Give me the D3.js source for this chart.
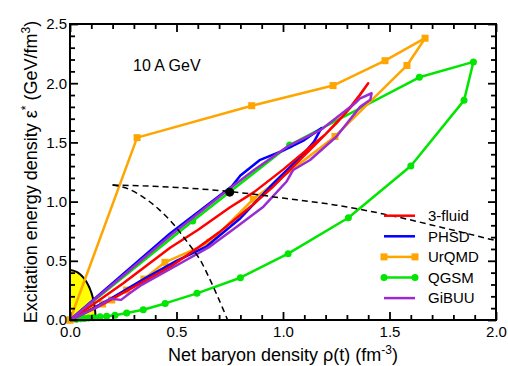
<!DOCTYPE html>
<html><head><meta charset="utf-8">
<script src="https://cdn.jsdelivr.net/npm/d3@7"></script>
<style>
body{margin:0;background:#fff;}
text{font-family:"Liberation Sans",Arial,Helvetica,sans-serif;}
</style></head>
<body>
<svg id="c" width="508" height="366"></svg>
<script>
// ---- data (net baryon density rho, excitation energy density eps) ----
const fluidRho = [0,0.1,0.25,0.47,0.6,0.75,0.864,1.0,1.1,1.2,1.3,1.36,1.40,1.33,1.25,1.15,1.05,0.95,0.85,0.7,0.6,0.48,0.3,0.15,0];
const fluidEps = [0,0.12,0.31,0.61,0.76,0.95,1.08,1.27,1.42,1.57,1.76,1.9,2.0,1.82,1.66,1.48,1.3,1.12,0.96,0.74,0.61,0.46,0.28,0.13,0];

const phsdRho = [0,0.2,0.47,0.76,0.80,0.89,1.0,1.1,1.18,1.146,1.099,0.958,0.8,0.64,0.5,0.35,0.2,0.08,0];
const phsdEps = [0,0.31,0.73,1.13,1.22,1.35,1.43,1.52,1.62,1.506,1.408,1.16,0.86,0.62,0.5,0.35,0.19,0.07,0];

const urqmdRho = [0,0.315,0.853,1.235,1.479,1.667,1.582,1.244,0.861,0.657,0.446,0.347,0.266,0.196,0.153,0];
const urqmdEps = [0,1.54,1.81,1.98,2.19,2.38,2.15,1.55,1.02,0.656,0.487,0.346,0.253,0.169,0.135,0];

const qgsmRho = [0,0.03,0.05,0.068,0.088,0.109,0.141,0.172,0.211,0.266,0.344,0.447,0.596,0.80,1.024,1.307,1.6,1.85,1.894,1.64,1.031,0.576,0];
const qgsmEps = [0,0.006,0.01,0.013,0.016,0.02,0.028,0.031,0.04,0.059,0.087,0.14,0.225,0.357,0.56,0.864,1.30,1.855,2.18,2.05,1.478,0.836,0];

const gibuuRho = [0,0.2,0.469,0.75,0.864,1.02,1.177,1.338,1.36,1.416,1.41,1.362,1.25,1.127,1.048,1.017,0.908,0.783,0.657,0.5,0.33,0.28,0.24,0.19,0.12,0];
const gibuuEps = [0,0.3,0.71,1.11,1.267,1.464,1.605,1.83,1.87,1.915,1.86,1.80,1.548,1.351,1.267,1.17,0.957,0.788,0.62,0.46,0.29,0.225,0.17,0.18,0.1,0];

// dashed curves
const dashARho = [0.2,0.5,0.75,1.0,1.25,1.5,1.75,2.0];
const dashAEps = [1.14,1.12,1.085,1.03,0.97,0.885,0.78,0.67];
const dashBRho = [0.2,0.27,0.35,0.42,0.49,0.55,0.61,0.66,0.70,0.74];
const dashBEps = [1.14,1.11,1.03,0.93,0.80,0.66,0.51,0.33,0.17,0.0];
const blobRho = [0.75], blobEps = [1.08];

// yellow region semi-axes
const regionRho = 0.12, regionEps = 0.42;

const legendNames = ["3-fluid","PHSD","UrQMD","QGSM","GiBUU"];
const xMajor = [0,0.5,1.0,1.5,2.0];
const yMajor = [0,0.5,1.0,1.5,2.0,2.5];

// ---- drawing ----
const svg = d3.select("#c");
const x = d3.scaleLinear().domain([0,2]).range([70,496]);
const y = d3.scaleLinear().domain([0,2.5]).range([320,24]);
const zip = (a,b)=>a.map((v,i)=>[v,b[i]]);
const line = d3.line().x(d=>x(d[0])).y(d=>y(d[1]));

const colors = {fluid:"#ff0000", phsd:"#0000ff", urqmd:"#ffa500", qgsm:"#00e600", gibuu:"#9a2bd0"};

// yellow region
const arcPts = d3.range(0,91,3).map(a=>[regionRho*Math.cos(a*Math.PI/180), regionEps*Math.sin(a*Math.PI/180)]);
svg.append("path").attr("d", line([[0,0],...arcPts,[0,0]])).attr("fill","#ffff00").attr("stroke","none");
svg.append("path").attr("d", line(arcPts)).attr("fill","none").attr("stroke","#000").attr("stroke-width",2);

// series
function drawSeries(rho, eps, col, w){
  svg.append("path").attr("d", line(zip(rho,eps))).attr("fill","none")
    .attr("stroke",col).attr("stroke-width",w).attr("stroke-linejoin","round");
}
drawSeries(qgsmRho,qgsmEps,colors.qgsm,2.5);
svg.append("g").selectAll("circle").data(zip(qgsmRho,qgsmEps).slice(1,-1)).join("circle")
  .attr("cx",d=>x(d[0])).attr("cy",d=>y(d[1])).attr("r",3.5).attr("fill",colors.qgsm);
drawSeries(urqmdRho,urqmdEps,colors.urqmd,2.5);
svg.append("g").selectAll("rect").data(zip(urqmdRho,urqmdEps)).join("rect")
  .attr("x",d=>x(d[0])-3.5).attr("y",d=>y(d[1])-3.5).attr("width",7).attr("height",7).attr("fill",colors.urqmd);
drawSeries(phsdRho,phsdEps,colors.phsd,2.5);
drawSeries(fluidRho,fluidEps,colors.fluid,2.5);
drawSeries(gibuuRho,gibuuEps,colors.gibuu,2.5);

// dashed curves
const curve = d3.line().x(d=>x(d[0])).y(d=>y(d[1])).curve(d3.curveMonotoneX);
svg.append("path").attr("d", curve(zip(dashARho,dashAEps))).attr("fill","none").attr("stroke","#000")
  .attr("stroke-width",1.5).attr("stroke-dasharray","6,4");
svg.append("path").attr("d", d3.line().x(d=>x(d[0])).y(d=>y(d[1])).curve(d3.curveCatmullRom)(zip(dashBRho,dashBEps)))
  .attr("fill","none").attr("stroke","#000").attr("stroke-width",1.5).attr("stroke-dasharray","6,4");
svg.selectAll(".blob").data(zip(blobRho,blobEps)).join("circle").attr("class","blob")
  .attr("cx",d=>x(d[0])).attr("cy",d=>y(d[1])).attr("r",4.5).attr("fill","#000");

// axes
const xMinor = d3.range(0,2.001,0.1).filter(v=>!xMajor.some(m=>Math.abs(m-v)<1e-6));
const yMinor = d3.range(0,2.501,0.1).filter(v=>!yMajor.some(m=>Math.abs(m-v)<1e-6));
function styleAxis(g){ g.select(".domain").remove(); g.selectAll("line").attr("stroke","#000").attr("stroke-width",1.8);
  g.selectAll("text").attr("font-size",15).attr("fill","#000").attr("font-family","Liberation Sans, Arial, sans-serif"); }
svg.append("g").attr("transform","translate(0,320)").call(d3.axisBottom(x).tickValues(xMajor).tickSize(-8).tickPadding(6).tickFormat(d3.format(".1f"))).call(styleAxis);
svg.append("g").attr("transform","translate(0,320)").call(d3.axisBottom(x).tickValues(xMinor).tickSize(-5).tickFormat("")).call(styleAxis);
svg.append("g").attr("transform","translate(0,24)").call(d3.axisTop(x).tickValues(xMajor).tickSize(-8).tickFormat("")).call(styleAxis);
svg.append("g").attr("transform","translate(0,24)").call(d3.axisTop(x).tickValues(xMinor).tickSize(-5).tickFormat("")).call(styleAxis);
svg.append("g").attr("transform","translate(70,0)").call(d3.axisLeft(y).tickValues(yMajor).tickSize(-8).tickPadding(3).tickFormat(d3.format(".1f"))).call(styleAxis);
svg.append("g").attr("transform","translate(70,0)").call(d3.axisLeft(y).tickValues(yMinor).tickSize(-5).tickFormat("")).call(styleAxis);
svg.append("g").attr("transform","translate(496,0)").call(d3.axisRight(y).tickValues(yMajor).tickSize(-8).tickFormat("")).call(styleAxis);
svg.append("g").attr("transform","translate(496,0)").call(d3.axisRight(y).tickValues(yMinor).tickSize(-5).tickFormat("")).call(styleAxis);
svg.append("rect").attr("x",70).attr("y",24).attr("width",426).attr("height",296).attr("fill","none").attr("stroke","#000").attr("stroke-width",2);

// annotation
svg.append("text").attr("x",133).attr("y",71).attr("font-size",16).text("10 A GeV");

// legend
const legCols = [colors.fluid,colors.phsd,colors.urqmd,colors.qgsm,colors.gibuu];
const lg = svg.append("g");
legendNames.forEach((n,i)=>{
  const yy = 215.7 + i*20.6;
  lg.append("line").attr("x1",384).attr("x2",415).attr("y1",yy).attr("y2",yy).attr("stroke",legCols[i]).attr("stroke-width",2.5);
  if(n==="UrQMD"){ [384,415].forEach(xx=>lg.append("rect").attr("x",xx-3.5).attr("y",yy-3.5).attr("width",7).attr("height",7).attr("fill",legCols[i])); }
  if(n==="QGSM"){ [384,415].forEach(xx=>lg.append("circle").attr("cx",xx).attr("cy",yy).attr("r",3.5).attr("fill",legCols[i])); }
  lg.append("text").attr("x",428).attr("y",yy+5.3).attr("font-size",15).text(n);
});

// axis titles
const xt = svg.append("text").attr("x",283).attr("y",361).attr("text-anchor","middle").attr("font-size",18);
xt.append("tspan").text("Net baryon density ρ(t) (fm");
xt.append("tspan").attr("font-size",12).attr("dy",-7).text("-3");
xt.append("tspan").attr("dy",7).text(")");
const yt = svg.append("text").attr("transform","translate(37,172) rotate(-90)").attr("text-anchor","middle").attr("font-size",18);
yt.append("tspan").text("Excitation energy density ε");
yt.append("tspan").attr("font-size",12).attr("dy",-7).text("*");
yt.append("tspan").attr("dy",7).text(" (GeV/fm");
yt.append("tspan").attr("font-size",12).attr("dy",-7).text("3");
yt.append("tspan").attr("dy",7).text(")");
</script>
</body></html>
